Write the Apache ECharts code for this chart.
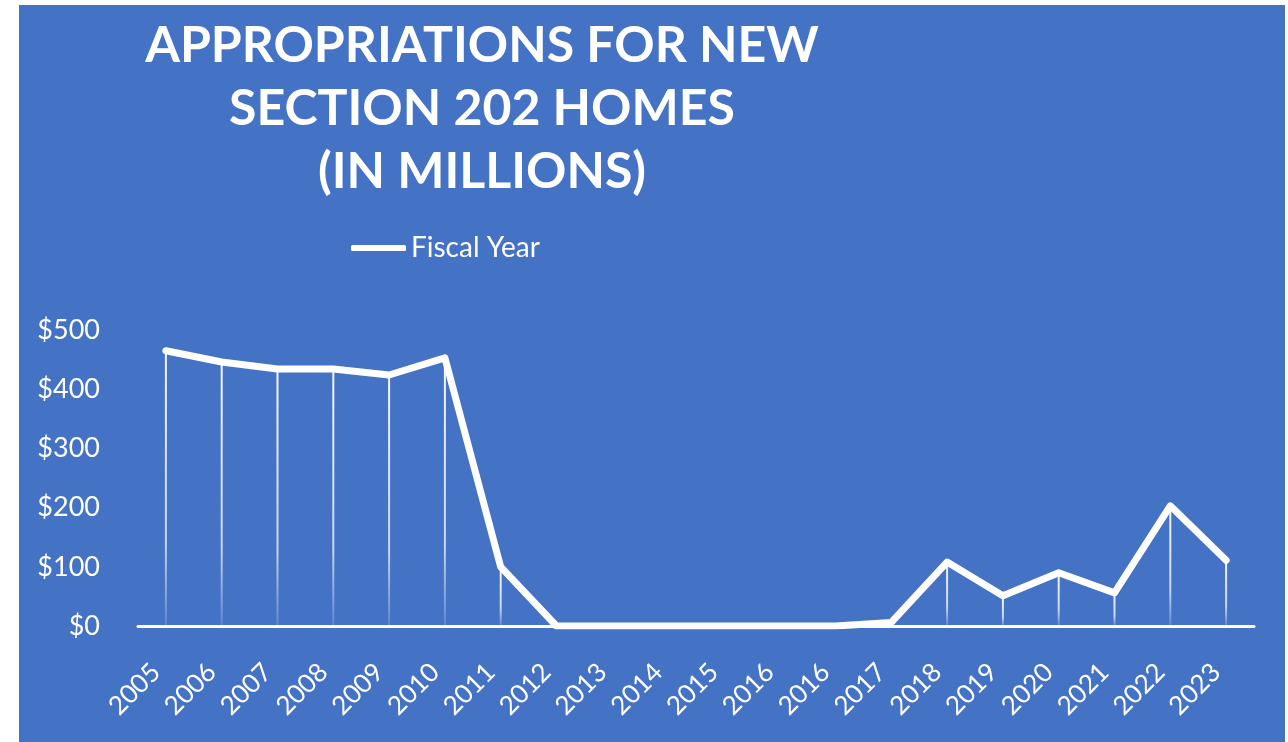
<!DOCTYPE html>
<html>
<head>
<meta charset="utf-8">
<script src="https://cdn.jsdelivr.net/npm/echarts@6/dist/echarts.min.js"></script>
<style>
  html, body { margin: 0; padding: 0; background: #ffffff; width: 1288px; height: 742px; overflow: hidden; }
  #chart { position: absolute; left: 19px; top: 5px; width: 1266px; height: 737px; }
</style>
</head>
<body>
<div id="chart"></div>
<script>
const titleLines = ['APPROPRIATIONS FOR NEW', 'SECTION 202 HOMES', '(IN MILLIONS)'];
const seriesName = 'Fiscal Year';
const categories = ['2005','2006','2007','2008','2009','2010','2011','2012','2013','2014','2015','2016','2016','2017','2018','2019','2020','2021','2022','2023'];
const values = [465, 446, 434, 434, 424, 453, 100, 0, 0, 0, 0, 0, 0, 6, 108, 51, 90, 56, 203, 111];
const yTicks = [0, 100, 200, 300, 400, 500];

const font = 'Lato, "Open Sans", sans-serif';
const chart = echarts.init(document.getElementById('chart'));
chart.setOption({
  backgroundColor: '#4472C4',
  animation: false,
  title: {
    text: titleLines.join('\n'),
    left: 458,
    top: 4,
    textAlign: 'center',
    textStyle: { color: '#ffffff', fontSize: 50, fontWeight: 'bold', fontFamily: font, lineHeight: 63 }
  },
  legend: {
    data: [{ name: seriesName, icon: 'roundRect' }],
    left: 327,
    top: 224,
    itemWidth: 55,
    itemHeight: 6,
    itemGap: 8,
    textStyle: { color: '#ffffff', fontSize: 28, fontFamily: font }
  },
  grid: { left: 119, right: 31, top: 325, bottom: 116, containLabel: false },
  xAxis: {
    type: 'category',
    data: categories,
    boundaryGap: true,
    axisLine: { show: true, lineStyle: { color: '#ffffff', width: 3 } },
    axisTick: { show: false },
    axisLabel: { color: '#ffffff', fontSize: 26, fontFamily: font, rotate: 45, interval: 0, margin: 32, padding: [0, 14, 0, 0] },
    splitLine: { show: false }
  },
  yAxis: {
    type: 'value',
    min: yTicks[0],
    max: yTicks[yTicks.length - 1],
    interval: yTicks[1] - yTicks[0],
    axisLine: { show: false },
    axisTick: { show: false },
    splitLine: { show: false },
    axisLabel: { color: '#ffffff', fontSize: 27, fontFamily: font, margin: 38, formatter: v => '$' + v }
  },
  series: [
    {
      name: 'drop',
      type: 'bar',
      data: values,
      barWidth: 2,
      silent: true,
      z: 1,
      itemStyle: {
        color: new echarts.graphic.LinearGradient(0, 0, 0, 1, [
          { offset: 0, color: 'rgba(255,255,255,0.95)' },
          { offset: 0.7, color: 'rgba(255,255,255,0.7)' },
          { offset: 1, color: 'rgba(255,255,255,0.15)' }
        ])
      }
    },
    {
      name: seriesName,
      type: 'line',
      data: values,
      showSymbol: false,
      symbol: 'none',
      z: 3,
      lineStyle: { color: '#ffffff', width: 7, cap: 'round', join: 'round' },
      itemStyle: { color: '#ffffff' }
    }
  ]
});
</script>
</body>
</html>
